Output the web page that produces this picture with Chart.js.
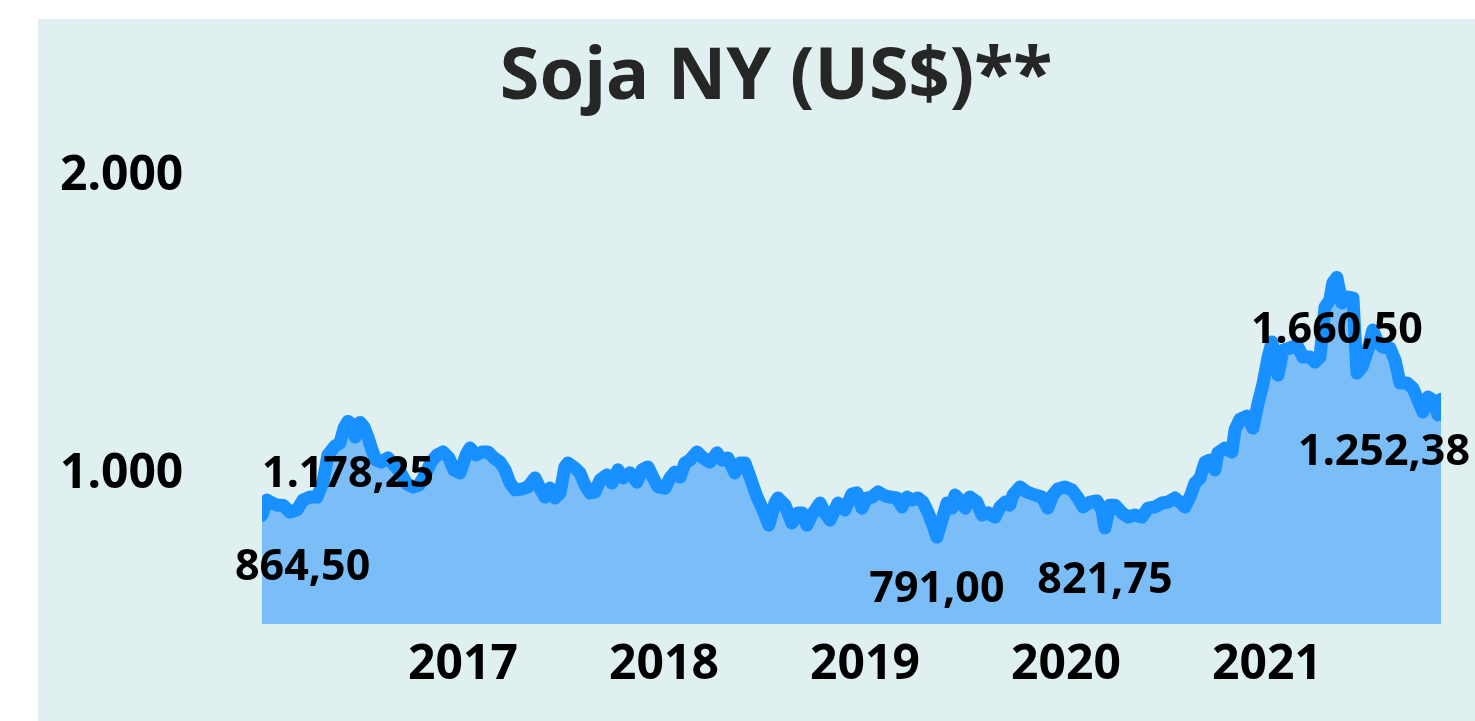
<!DOCTYPE html>
<html>
<head>
<meta charset="utf-8">
<script src="https://cdn.jsdelivr.net/npm/chart.js@4/dist/chart.umd.min.js"></script>
<style>
  body { margin: 0; background: #ffffff; }
  #box { position: absolute; left: 38px; top: 19px; width: 1437px; height: 702px; background: #e0eff0; }
</style>
</head>
<body>
<div id="box"><canvas id="soja" width="1437" height="702"></canvas></div>
<script>
// weekly-ish readings, time as decimal year
const years = [
  2016.000, 2016.025, 2016.050, 2016.075, 2016.104, 2016.139, 2016.174, 2016.204, 2016.239, 2016.274,
  2016.303, 2016.328, 2016.363, 2016.388, 2016.408, 2016.428, 2016.448, 2016.463, 2016.488, 2016.507,
  2016.527, 2016.547, 2016.567, 2016.592, 2016.627, 2016.657, 2016.687, 2016.721, 2016.751, 2016.781,
  2016.811, 2016.841, 2016.871, 2016.900, 2016.930, 2016.955, 2016.985, 2017.015, 2017.035, 2017.065,
  2017.095, 2017.124, 2017.154, 2017.184, 2017.209, 2017.234, 2017.259, 2017.294, 2017.323, 2017.358,
  2017.383, 2017.408, 2017.433, 2017.458, 2017.483, 2017.507, 2017.522, 2017.557, 2017.582, 2017.607,
  2017.632, 2017.657, 2017.682, 2017.716, 2017.741, 2017.771, 2017.796, 2017.831, 2017.866, 2017.891,
  2017.920, 2017.945, 2017.970, 2018.005, 2018.030, 2018.055, 2018.080, 2018.104, 2018.129, 2018.164,
  2018.194, 2018.229, 2018.264, 2018.289, 2018.318, 2018.353, 2018.378, 2018.403, 2018.428, 2018.463,
  2018.493, 2018.522, 2018.552, 2018.567, 2018.602, 2018.637, 2018.667, 2018.687, 2018.711, 2018.736,
  2018.776, 2018.801, 2018.826, 2018.866, 2018.900, 2018.935, 2018.960, 2018.985, 2019.010, 2019.035,
  2019.065, 2019.100, 2019.124, 2019.159, 2019.184, 2019.209, 2019.234, 2019.264, 2019.289, 2019.313,
  2019.338, 2019.358, 2019.383, 2019.408, 2019.433, 2019.448, 2019.473, 2019.498, 2019.522, 2019.557,
  2019.582, 2019.612, 2019.647, 2019.672, 2019.697, 2019.721, 2019.736, 2019.771, 2019.806, 2019.846,
  2019.881, 2019.910, 2019.935, 2019.960, 2019.995, 2020.030, 2020.060, 2020.085, 2020.119, 2020.154,
  2020.179, 2020.194, 2020.219, 2020.244, 2020.279, 2020.308, 2020.343, 2020.378, 2020.408, 2020.443,
  2020.478, 2020.507, 2020.542, 2020.567, 2020.592, 2020.617, 2020.642, 2020.667, 2020.692, 2020.716,
  2020.741, 2020.756, 2020.791, 2020.826, 2020.841, 2020.866, 2020.900, 2020.930, 2020.955, 2020.980,
  2021.005, 2021.025, 2021.055, 2021.080, 2021.115, 2021.149, 2021.179, 2021.214, 2021.239, 2021.264,
  2021.289, 2021.313, 2021.328, 2021.348, 2021.373, 2021.403, 2021.428, 2021.448, 2021.473, 2021.502,
  2021.527, 2021.552, 2021.577, 2021.612, 2021.637, 2021.662, 2021.697, 2021.726, 2021.751, 2021.776,
  2021.801, 2021.826, 2021.851, 2021.866
];

const prices = [
  864.50, 915, 905, 898, 898, 875, 882, 915, 925, 925,
  975, 1066, 1096, 1106, 1156, 1178.25, 1168, 1126, 1175, 1160,
  1126, 1083, 1049, 1042, 1056, 1032, 1009, 969, 959, 965,
  999, 1042, 1066, 1076, 1056, 1016, 1006, 1066, 1089, 1066,
  1076, 1076, 1056, 1042, 1016, 972, 949, 952, 959, 989,
  955, 925, 955, 922, 939, 1026, 1039, 1022, 1006, 965,
  939, 942, 982, 999, 972, 1016, 989, 1006, 975, 1016,
  1026, 992, 959, 955, 989, 1009, 992, 1039, 1049, 1076,
  1056, 1042, 1073, 1049, 1056, 1006, 1039, 1039, 992, 925,
  882, 831, 905, 922, 898, 838, 872, 872, 831, 865,
  905, 872, 848, 905, 882, 935, 939, 888, 922, 925,
  942, 929, 925, 922, 892, 925, 915, 922, 908, 875,
  831, 791.00, 848, 905, 888, 932, 915, 888, 925, 908,
  865, 872, 858, 892, 908, 898, 932, 959, 942, 932,
  925, 888, 932, 952, 959, 949, 922, 892, 908, 912,
  882, 821.75, 898, 898, 872, 858, 865, 858, 888, 892,
  905, 908, 922, 908, 892, 925, 972, 989, 1042, 1049,
  1016, 1073, 1089, 1076, 1150, 1186, 1196, 1156, 1236, 1303,
  1391, 1444, 1333, 1417, 1424, 1434, 1394, 1394, 1377, 1394,
  1561, 1585, 1642, 1660.50, 1575, 1595, 1591, 1340, 1360, 1417,
  1484, 1441, 1427, 1424, 1384, 1307, 1307, 1290, 1250, 1210,
  1260, 1250, 1200, 1252.38
];

const xTickYears = [2017, 2018, 2019, 2020, 2021];
const yTickValues = [1000, 2000];
const labeledPrices = [864.50, 1178.25, 791.00, 821.75, 1660.50, 1252.38];
const titleText = 'Soja NY (US$)**';

const FONT = '"Noto Sans", "Open Sans", sans-serif';

// 1234.5 -> "1.234,50"
function fmtBR(v, dec) {
  const parts = v.toFixed(dec).split('.');
  parts[0] = parts[0].replace(/\B(?=(\d{3})+(?!\d))/g, '.');
  return dec ? parts.join(',') : parts[0];
}

// title sits a bit right of the canvas centre, so it is drawn here
const titlePlugin = {
  id: 'sojaTitle',
  afterDraw(chart) {
    const ctx = chart.ctx;
    ctx.save();
    ctx.font = 'bold 72px ' + FONT;
    ctx.fillStyle = '#262626';
    ctx.textAlign = 'center';
    ctx.textBaseline = 'middle';
    ctx.fillText(titleText, 738, 59);
    ctx.restore();
  }
};

// value labels drawn under the marked points
const valueLabels = {
  id: 'valueLabels',
  afterDatasetsDraw(chart) {
    const ctx = chart.ctx;
    const meta = chart.getDatasetMeta(0);
    ctx.save();
    ctx.font = 'bold 43px ' + FONT;
    ctx.fillStyle = '#000000';
    ctx.textAlign = 'center';
    ctx.textBaseline = 'middle';
    labeledPrices.forEach(v => {
      const i = prices.indexOf(v);
      const pt = meta.data[i];
      const text = fmtBR(v, 2);
      const w = ctx.measureText(text).width;
      let x = Math.max(pt.x, 197 + w / 2);
      x = Math.min(x, 1432 - w / 2);
      ctx.fillText(text, x, pt.y + 53);
    });
    ctx.restore();
  }
};

new Chart(document.getElementById('soja'), {
  type: 'line',
  data: {
    datasets: [{
      data: years.map((t, i) => ({ x: t, y: prices[i] })),
      borderColor: '#1890ff',
      backgroundColor: '#7bbdf7',
      borderWidth: 13,
      borderJoinStyle: 'round',
      borderCapStyle: 'round',
      pointRadius: 0,
      tension: 0,
      fill: 'start'
    }]
  },
  options: {
    responsive: false,
    animation: false,
    layout: { padding: { left: 22, right: 34, top: 157, bottom: 28 } },
    plugins: {
      legend: { display: false },
      tooltip: { enabled: false },
      title: { display: false }
    },
    scales: {
      x: {
        type: 'linear',
        min: 2016,
        max: years[years.length - 1],
        grid: { display: false, drawTicks: false },
        border: { display: false },
        afterBuildTicks: axis => { axis.ticks = xTickYears.map(v => ({ value: v })); },
        afterFit: axis => { axis.height = 69; },
        ticks: {
          autoSkip: false,
          maxRotation: 0,
          padding: 13,
          color: '#000000',
          font: { family: FONT, size: 48, weight: 'bold' },
          callback: v => String(v)
        }
      },
      y: {
        min: 500,
        max: 2000,
        grid: { display: false, drawTicks: false },
        border: { display: false },
        afterBuildTicks: axis => { axis.ticks = yTickValues.map(v => ({ value: v })); },
        // keep the label half-heights from pushing the plot area around
        afterFit: axis => { axis.width = 202; axis.paddingTop = 0; axis.paddingBottom = 0; },
        ticks: {
          padding: 0,
          crossAlign: 'far',
          color: '#000000',
          font: { family: FONT, size: 48, weight: 'bold' },
          callback: v => fmtBR(v, 0)
        }
      }
    }
  },
  plugins: [valueLabels, titlePlugin]
});
</script>
</body>
</html>
